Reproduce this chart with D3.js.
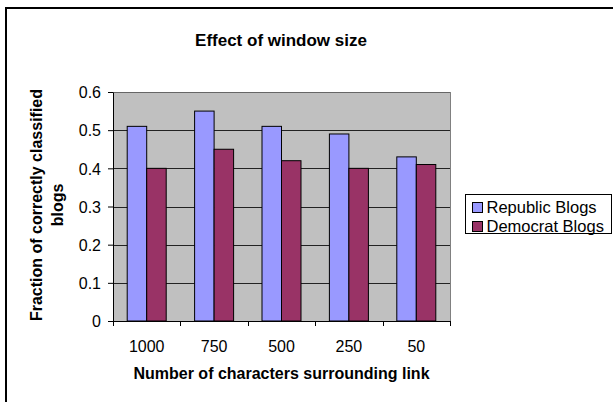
<!DOCTYPE html>
<html>
<head>
<meta charset="utf-8">
<script src="https://cdn.jsdelivr.net/npm/d3@7"></script>
<style>
  body { margin: 0; background: #fff; }
  text { font-family: "Liberation Sans", Arial, sans-serif; }
</style>
</head>
<body>
<div id="chart"></div>
<script>
// Data
const categories = ["1000", "750", "500", "250", "50"];
const seriesNames = ["Republic Blogs", "Democrat Blogs"];
const republic = [0.51, 0.55, 0.51, 0.49, 0.43];
const democrat = [0.40, 0.45, 0.42, 0.40, 0.41];
const yTicks = [0, 0.1, 0.2, 0.3, 0.4, 0.5, 0.6];
const colors = ["#9999ff", "#993366"];

const W = 613, H = 402;
const margin = { top: 92, right: 163, bottom: 81, left: 113 };
const width = W - margin.left - margin.right;
const height = H - margin.top - margin.bottom;

const svg = d3.select("#chart").append("svg")
    .attr("width", W)
    .attr("height", H);

// outer chart border (runs off the right and bottom edges)
svg.append("rect")
    .attr("x", 6).attr("y", 8)
    .attr("width", W + 10).attr("height", H + 10)
    .attr("fill", "none")
    .attr("stroke", "#000")
    .attr("stroke-width", 2);

const g = svg.append("g")
    .attr("transform", `translate(${margin.left},${margin.top})`);

// Scales
const x0 = d3.scaleBand().domain(categories).range([0, width]);
const x1 = d3.scaleBand().domain(seriesNames).range([x0.bandwidth() / 2 - 19.5, x0.bandwidth() / 2 + 19.5]);
const y = d3.scaleLinear().domain([0, 0.6]).range([height, 0]);

// plot background
g.append("rect")
    .attr("width", width).attr("height", height)
    .attr("fill", "#c0c0c0");

// gridlines
g.append("g")
    .selectAll("line")
    .data(yTicks.slice(1))
    .join("line")
    .attr("x1", 0).attr("x2", width)
    .attr("y1", d => Math.round(y(d)) + 0.5)
    .attr("y2", d => Math.round(y(d)) + 0.5)
    .attr("stroke", d => d === 0.6 ? "#666" : "#222")
    .attr("stroke-width", 1);

// right border of plot area
g.append("line")
    .attr("x1", width + 0.5).attr("x2", width + 0.5)
    .attr("y1", 0).attr("y2", height)
    .attr("stroke", "#808080");

// bars
const rows = categories.map((c, i) => ({ cat: c, vals: [republic[i], democrat[i]] }));
g.append("g")
    .selectAll("g")
    .data(rows)
    .join("g")
    .attr("transform", d => `translate(${x0(d.cat)},0)`)
    .selectAll("rect")
    .data(d => d.vals.map((v, k) => ({ key: seriesNames[k], v, k })))
    .join("rect")
    .attr("x", d => x1(d.key))
    .attr("y", d => y(d.v))
    .attr("width", x1.bandwidth())
    .attr("height", d => height - y(d.v))
    .attr("fill", d => colors[d.k])
    .attr("stroke", "#000")
    .attr("stroke-width", 1);

// y axis
const yAxis = g.append("g")
    .call(d3.axisLeft(y).tickValues(yTicks).tickFormat(d => d === 0 ? "0" : d3.format(".1f")(d)).tickSize(5).tickSizeOuter(0))
    .attr("font-family", null)
    .attr("font-size", null);
yAxis.select(".domain").attr("stroke", "#000");
yAxis.selectAll(".tick line").attr("stroke", "#000");
yAxis.selectAll(".tick text")
    .attr("x", -12)
    .attr("dy", "0.36em")
    .style("font-size", "16px")
    .attr("fill", "#000");

// x axis
const xAxis = g.append("g")
    .attr("transform", `translate(0,${height})`)
    .call(d3.axisBottom(x0).tickSize(0).tickSizeOuter(0))
    .attr("font-family", null)
    .attr("font-size", null);
xAxis.select(".domain").attr("stroke", "#000");
xAxis.selectAll(".tick text")
    .attr("y", 31)
    .attr("dy", null)
    .style("font-size", "16px")
    .attr("fill", "#000");
// category boundary ticks
xAxis.append("g")
    .selectAll("line")
    .data(d3.range(categories.length + 1))
    .join("line")
    .attr("x1", i => Math.round(i * x0.step()) + 0.5)
    .attr("x2", i => Math.round(i * x0.step()) + 0.5)
    .attr("y1", 0).attr("y2", 5)
    .attr("stroke", "#000");

// title
svg.append("text")
    .attr("x", 281)
    .attr("y", 46)
    .attr("text-anchor", "middle")
    .style("font-size", "17px")
    .style("font-weight", "bold")
    .text("Effect of window size");

// x-axis label
svg.append("text")
    .attr("x", margin.left + width / 2)
    .attr("y", 379)
    .attr("text-anchor", "middle")
    .style("font-size", "16px")
    .style("font-weight", "bold")
    .text("Number of characters surrounding link");

// y-axis label (two lines)
const yl = svg.append("text")
    .attr("transform", `translate(42,205) rotate(-90)`)
    .attr("text-anchor", "middle")
    .style("font-size", "16px")
    .style("font-weight", "bold");
yl.append("tspan").attr("x", 0).attr("y", 0).text("Fraction of correctly classified");
yl.append("tspan").attr("x", 0).attr("y", 21).text("blogs");

// legend
const legend = svg.append("g").attr("transform", "translate(465.5,194.5)");
legend.append("rect")
    .attr("width", 146).attr("height", 39)
    .attr("fill", "#fff")
    .attr("stroke", "#000");
seriesNames.forEach((name, k) => {
    const row = legend.append("g").attr("transform", `translate(7,${8 + k * 19})`);
    row.append("rect")
        .attr("width", 10).attr("height", 10)
        .attr("fill", colors[k])
        .attr("stroke", "#000");
    row.append("text")
        .attr("x", 14)
        .attr("y", 5)
        .attr("dy", "0.36em")
        .style("font-size", "16.5px")
        .text(name);
});
</script>
</body>
</html>
